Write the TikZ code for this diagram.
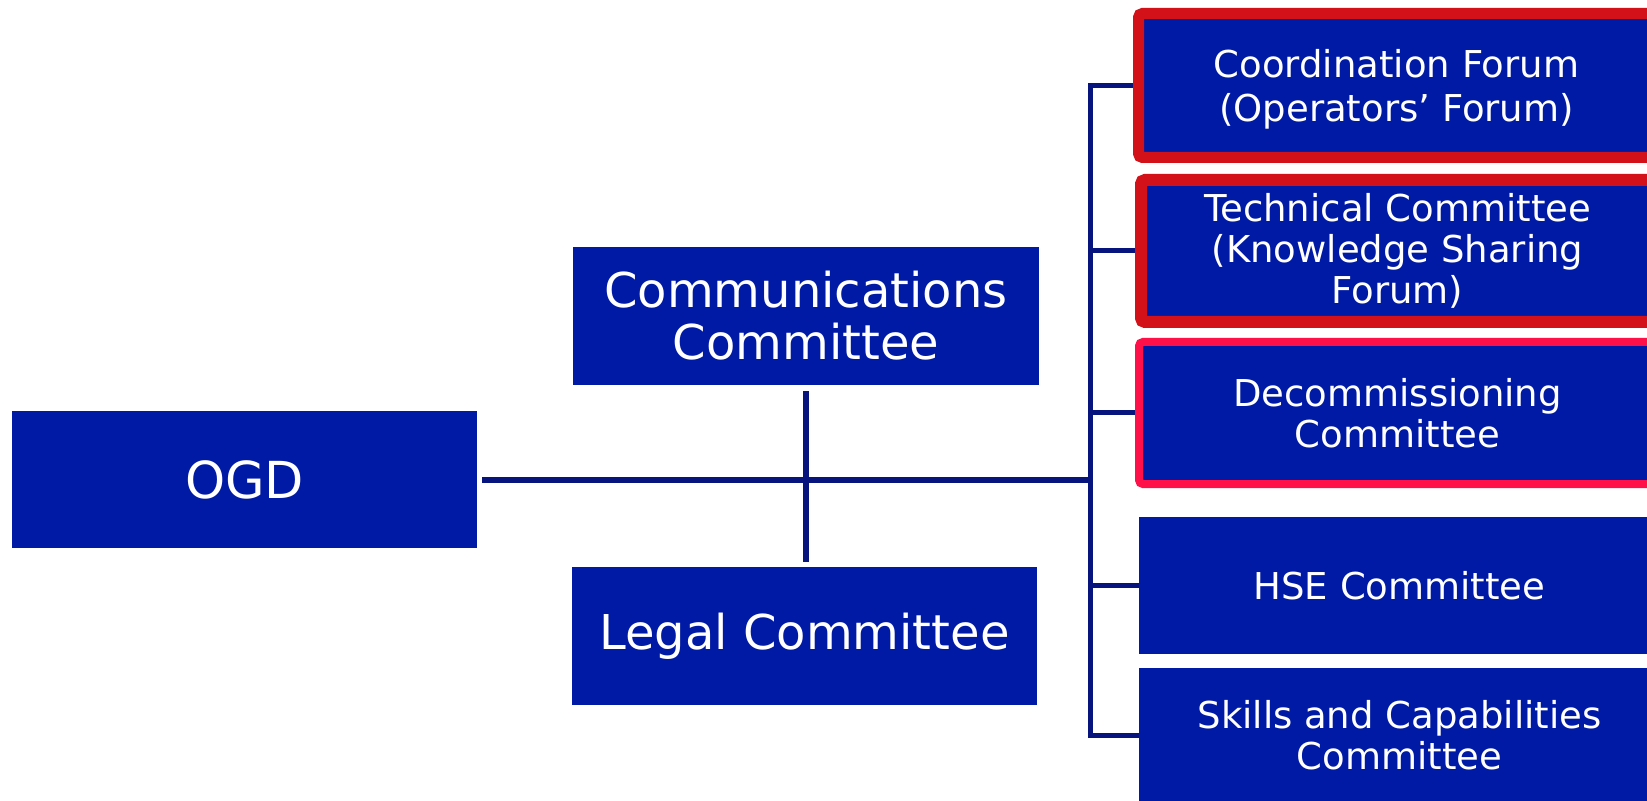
\documentclass[tikz,border=0pt]{standalone}
\usepackage{fontspec}
\setmainfont{DejaVu Sans}
\definecolor{boxblue}{RGB}{0,26,165}
\definecolor{linenavy}{RGB}{8,20,125}
\definecolor{borderred}{RGB}{210,18,24}
\definecolor{borderpink}{RGB}{255,16,72}
\begin{document}
\begin{tikzpicture}[x=0.5pt,y=-0.5pt,
  box/.style={fill=boxblue, text=white, align=center, inner sep=0pt},
  bigtext/.style={font=\fontsize{24}{26}\selectfont},
  smalltext/.style={font=\fontsize{18.5}{20.5}\selectfont},
  conn/.style={draw=linenavy, line width=2.5pt},
]
\useasboundingbox (0,0) rectangle (1647,801);
\clip (0,0) rectangle (1647,801);

\node[box, minimum width=232.5pt, minimum height=68.5pt, font=\fontsize{25.5}{28}\selectfont] (ogd) at (244.5,479.5) {OGD};
\node[box, bigtext, minimum width=233pt, minimum height=69pt] (comm) at (806,316) {Communications\\Committee};
\node[box, bigtext, minimum width=232.5pt, minimum height=69pt] (legal) at (804.5,636) {Legal Committee};

\node[box, font=\fontsize{18.5}{22}\selectfont, draw=borderred, line width=5.5pt, rounded corners=2pt, minimum width=258pt, minimum height=72pt] (coord) at (1396.5,85.5) {\raisebox{-2.5pt}[\height][\depth]{\begin{tabular}{@{}c@{}}Coordination Forum\\ (Operators’ Forum)\end{tabular}}};
\node[box, smalltext, draw=borderred, line width=6pt, rounded corners=2pt, minimum width=256.5pt, minimum height=71pt] (tech) at (1397.5,251) {Technical Committee\\(Knowledge Sharing\\Forum)};
\node[box, smalltext, draw=borderpink, line width=4pt, rounded corners=2pt, minimum width=258.5pt, minimum height=71pt] (decom) at (1397.5,413) {Decommissioning\\Committee};
\node[box, smalltext, minimum width=260.5pt, minimum height=68.5pt] (hse) at (1399.5,585.5) {HSE Committee};
\node[box, smalltext, minimum width=260.5pt, minimum height=67.5pt] (skills) at (1399.5,735.5) {Skills and Capabilities\\Committee};

\coordinate (bus) at (1090,479);

\draw[conn, line width=3pt] ([xshift=2.5pt]ogd.east) -- (ogd.east -| bus);
\draw[conn, line width=2.75pt] ([yshift=-3pt]comm.south) -- ([yshift=2.5pt]comm.south |- legal.north);
\draw[conn] (coord.west) -| (bus) |- (skills.west);
\draw[conn] (tech.west) -- (tech.west -| bus);
\draw[conn] (decom.west) -- (decom.west -| bus);
\draw[conn] (hse.west) -- (hse.west -| bus);
\end{tikzpicture}
\end{document}
